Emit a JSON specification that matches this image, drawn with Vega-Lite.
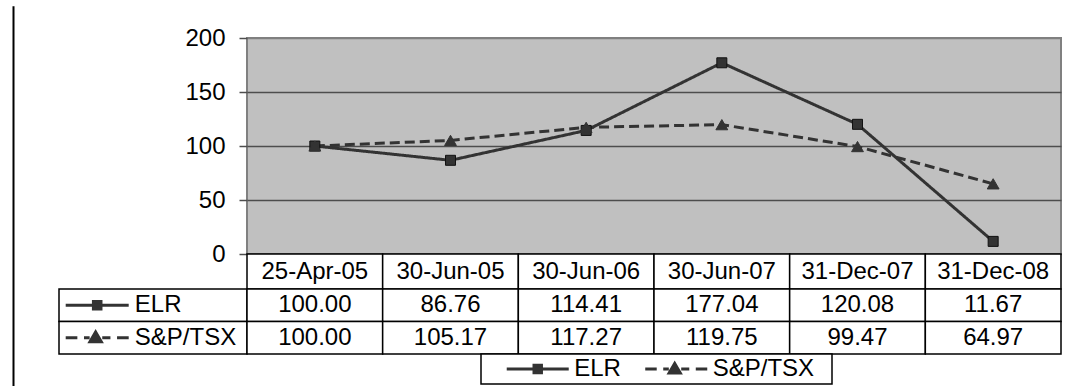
{
  "$schema": "https://vega.github.io/schema/vega-lite/v6.json",
  "background": "white",
  "padding": {"left": 12, "top": 5, "right": 5, "bottom": 0},
  "config": {"view": {"stroke": null}, "font": "Liberation Sans"},
  "datasets": {
    "perf": [
      {"date": "25-Apr-05", "series": "ELR", "value": 100.00},
      {"date": "30-Jun-05", "series": "ELR", "value": 86.76},
      {"date": "30-Jun-06", "series": "ELR", "value": 114.41},
      {"date": "30-Jun-07", "series": "ELR", "value": 177.04},
      {"date": "31-Dec-07", "series": "ELR", "value": 120.08},
      {"date": "31-Dec-08", "series": "ELR", "value": 11.67},
      {"date": "25-Apr-05", "series": "S&P/TSX", "value": 100.00},
      {"date": "30-Jun-05", "series": "S&P/TSX", "value": 105.17},
      {"date": "30-Jun-06", "series": "S&P/TSX", "value": 117.27},
      {"date": "30-Jun-07", "series": "S&P/TSX", "value": 119.75},
      {"date": "31-Dec-07", "series": "S&P/TSX", "value": 99.47},
      {"date": "31-Dec-08", "series": "S&P/TSX", "value": 64.97}
    ]
  },
  "bounds": "flush",
  "spacing": 45,
  "hconcat": [
    {
      "width": 1,
      "height": 216,
      "data": {"values": [{"edge": "page"}]},
      "mark": {"type": "rule", "color": "black", "strokeWidth": 2},
      "encoding": {
        "y": {"datum": 229.4, "type": "quantitative", "scale": {"domain": [0, 200], "nice": false, "zero": false}, "axis": null},
        "y2": {"datum": -123.4}
      }
    },
    {
      "columns": 2,
      "spacing": 0,
      "bounds": "flush",
      "align": "each",
      "concat": [
        {"width": 188, "height": 216, "data": {"values": []}, "mark": "point"},
        {
          "width": 814,
          "height": 216,
          "view": {"fill": "#c0c0c0", "stroke": "#808080", "strokeWidth": 2},
          "data": {"name": "perf"},
          "encoding": {
            "x": {"field": "date", "type": "nominal", "sort": null, "scale": {"type": "band", "paddingInner": 0, "paddingOuter": 0}, "axis": null},
            "y": {
              "field": "value", "type": "quantitative",
              "scale": {"domain": [0, 200], "nice": false},
              "axis": {
                "values": [0, 50, 100, 150, 200],
                "title": null,
                "domain": false,
                "grid": true,
                "gridColor": {"condition": {"test": "datum.value === 200", "value": "#808080"}, "value": "#4d4d4d"},
                "gridWidth": 1.5,
                "ticks": true,
                "tickSize": 8,
                "tickWidth": 1.5,
                "tickColor": "#4d4d4d",
                "labelFont": "Liberation Sans",
                "labelFontSize": 24,
                "labelColor": "black",
                "labelPadding": 14
              }
            }
          },
          "layer": [
            {
              "mark": {"type": "line", "color": "#333333", "strokeWidth": 3},
              "encoding": {
                "strokeDash": {"field": "series", "type": "nominal", "scale": {"domain": ["ELR", "S&P/TSX"], "range": [[1, 0], [10, 5]]}, "legend": null}
              }
            },
            {
              "transform": [{"filter": "datum.series === 'ELR'"}],
              "mark": {"type": "point", "shape": "square", "size": 100, "filled": true, "fill": "#333333", "stroke": "#111111", "strokeWidth": 1, "opacity": 1}
            },
            {
              "transform": [{"filter": "datum.series === 'S&P/TSX'"}],
              "mark": {"type": "point", "shape": "triangle-up", "size": 140, "filled": true, "fill": "#333333", "stroke": "#333333", "strokeWidth": 1, "opacity": 1}
            }
          ]
        },
        {"width": 188, "height": 35, "data": {"values": []}, "mark": "point"},
        {
          "width": 814,
          "height": 35,
          "data": {"name": "perf"},
          "transform": [{"filter": "datum.series === 'ELR'"}],
          "encoding": {
            "x": {"field": "date", "type": "nominal", "sort": null, "scale": {"type": "band", "paddingInner": 0, "paddingOuter": 0}, "axis": null}
          },
          "layer": [
            {"mark": {"type": "rect", "fill": "white", "stroke": "black", "strokeWidth": 1.5}},
            {
              "mark": {"type": "text", "font": "Liberation Sans", "fontSize": 24, "color": "black", "baseline": "middle"},
              "encoding": {"text": {"field": "date", "type": "nominal"}}
            }
          ]
        },
        {
          "width": 188,
          "height": 65,
          "data": {"name": "perf"},
          "transform": [{"filter": "datum.date === '25-Apr-05'"}],
          "encoding": {
            "y": {"field": "series", "type": "nominal", "scale": {"type": "band", "domain": ["ELR", "S&P/TSX"], "paddingInner": 0, "paddingOuter": 0}, "axis": null}
          },
          "layer": [
            {"mark": {"type": "rect", "fill": "white", "stroke": "black", "strokeWidth": 1.5}},
            {
              "mark": {"type": "point", "filled": true, "fill": "#333333", "stroke": "#333333", "strokeWidth": 3, "size": 3969, "opacity": 1, "xOffset": -55.8},
              "encoding": {
                "shape": {
                  "field": "series", "type": "nominal",
                  "scale": {"domain": ["ELR", "S&P/TSX"], "range": ["M-1,0H1M-0.12,-0.12H0.12V0.12H-0.12Z", "M-1,0H-0.63M-0.42,0H-0.24M0.16,0H0.42M0.63,0H1M-0.23,0.13L-0.05,-0.18L0.13,0.13Z"]},
                  "legend": null
                }
              }
            },
            {
              "mark": {"type": "text", "align": "left", "baseline": "middle", "dx": -18.2, "font": "Liberation Sans", "fontSize": 24, "color": "black"},
              "encoding": {"text": {"field": "series", "type": "nominal"}}
            }
          ]
        },
        {
          "width": 814,
          "height": 65,
          "data": {"name": "perf"},
          "encoding": {
            "x": {"field": "date", "type": "nominal", "sort": null, "scale": {"type": "band", "paddingInner": 0, "paddingOuter": 0}, "axis": null},
            "y": {"field": "series", "type": "nominal", "scale": {"type": "band", "domain": ["ELR", "S&P/TSX"], "paddingInner": 0, "paddingOuter": 0}, "axis": null}
          },
          "layer": [
            {"mark": {"type": "rect", "fill": "white", "stroke": "black", "strokeWidth": 1.5}},
            {
              "mark": {"type": "text", "font": "Liberation Sans", "fontSize": 24, "color": "black", "baseline": "middle"},
              "encoding": {"text": {"field": "value", "type": "quantitative", "format": ".2f"}}
            }
          ]
        },
        {"width": 188, "height": 30, "data": {"values": []}, "mark": "point"},
        {
          "spacing": 0,
          "bounds": "flush",
          "hconcat": [
            {"width": 234, "height": 30, "data": {"values": []}, "mark": "point"},
            {
              "width": 351,
              "height": 30,
              "view": {"fill": "white", "stroke": "black", "strokeWidth": 1.5},
              "data": {"name": "perf"},
              "transform": [{"filter": "datum.date === '25-Apr-05'"}],
              "encoding": {
                "x": {"field": "series", "type": "nominal", "scale": {"type": "point", "domain": ["ELR", "S&P/TSX"], "padding": 0.767, "align": 0.267}, "axis": null}
              },
              "layer": [
                {
                  "mark": {"type": "point", "filled": true, "fill": "#333333", "stroke": "#333333", "strokeWidth": 3, "size": 3844, "opacity": 1},
                  "encoding": {
                    "shape": {
                      "field": "series", "type": "nominal",
                      "scale": {"domain": ["ELR", "S&P/TSX"], "range": ["M-1,0H1M-0.12,-0.12H0.12V0.12H-0.12Z", "M-1,0H-0.63M-0.42,0H-0.24M0.16,0H0.42M0.63,0H1M-0.23,0.13L-0.05,-0.18L0.13,0.13Z"]},
                      "legend": null
                    }
                  }
                },
                {
                  "mark": {"type": "text", "align": "left", "baseline": "middle", "dx": 36.5, "font": "Liberation Sans", "fontSize": 24, "color": "black"},
                  "encoding": {"text": {"field": "series", "type": "nominal"}}
                }
              ]
            }
          ]
        }
      ]
    }
  ]
}
